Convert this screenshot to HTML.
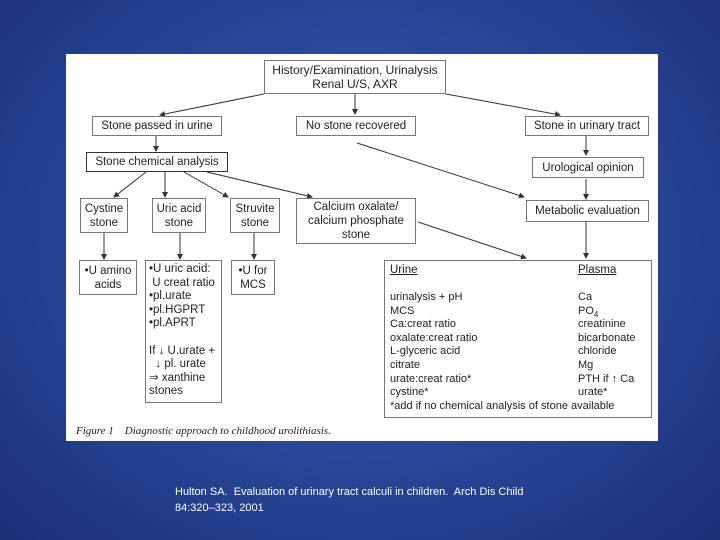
<!DOCTYPE html>
<html><head><style>
body{margin:0;width:720px;height:540px;overflow:hidden;background:radial-gradient(ellipse at 50% 45%,#3a5fb0 0%,#2a4a9c 45%,#1a2f78 100%);font-family:"Liberation Sans",sans-serif;position:relative}
.panel{position:absolute;left:66px;top:54px;width:592px;height:387px;background:#fff}
.b{position:absolute;border:1.5px solid #777;box-sizing:border-box;font-size:11.5px;color:#222;text-align:center;line-height:14px;display:flex;align-items:center;justify-content:center;background:#fff}
.l{text-align:left;justify-content:flex-start;align-items:flex-start;padding:2px 3px}
svg{position:absolute;left:0;top:0}
.t{position:absolute;font-size:11px;color:#222;line-height:13.6px}
</style></head><body>
<div class="panel"></div>
<svg width="720" height="540">
<defs><marker id="a" markerWidth="6" markerHeight="6" refX="5" refY="3" orient="auto"><path d="M0,0L6,3L0,6z" fill="#333"/></marker></defs>
<g stroke="#333" stroke-width="1" fill="none" marker-end="url(#a)">
<line x1="264" y1="94" x2="160" y2="115"/>
<line x1="355" y1="94" x2="355" y2="114"/>
<line x1="446" y1="94" x2="560" y2="115"/>
<line x1="156" y1="136" x2="156" y2="151"/>
<line x1="357" y1="143" x2="524" y2="197"/>
<line x1="586" y1="136" x2="586" y2="155"/>
<line x1="586" y1="179" x2="586" y2="199"/>
<line x1="146" y1="172" x2="114" y2="197"/>
<line x1="165" y1="172" x2="165" y2="197"/>
<line x1="184" y1="172" x2="228" y2="197"/>
<line x1="207" y1="172" x2="312" y2="197"/>
<line x1="418" y1="222" x2="526" y2="258"/>
<line x1="586" y1="222" x2="586" y2="258"/>
<line x1="104" y1="233" x2="104" y2="259"/>
<line x1="180" y1="233" x2="180" y2="259"/>
<line x1="254" y1="233" x2="254" y2="259"/>
</g></svg>
<div class="b" style="left:264px;top:60px;width:182px;height:34px;font-size:12px">History/Examination, Urinalysis<br>Renal U/S, AXR</div>
<div class="b" style="left:92px;top:116px;width:130px;height:20px">Stone passed in urine</div>
<div class="b" style="left:296px;top:116px;width:120px;height:20px">No stone recovered</div>
<div class="b" style="left:525px;top:116px;width:124px;height:20px">Stone in urinary tract</div>
<div class="b" style="left:86px;top:152px;width:142px;height:20px;border-color:#333">Stone chemical analysis</div>
<div class="b" style="left:532px;top:157px;width:112px;height:21px">Urological opinion</div>
<div class="b" style="left:80px;top:198px;width:48px;height:35px">Cystine<br>stone</div>
<div class="b" style="left:152px;top:198px;width:54px;height:35px">Uric acid<br>stone</div>
<div class="b" style="left:230px;top:198px;width:50px;height:35px">Struvite<br>stone</div>
<div class="b" style="left:296px;top:198px;width:120px;height:46px">Calcium oxalate/<br>calcium phosphate<br>stone</div>
<div class="b" style="left:526px;top:200px;width:123px;height:22px">Metabolic evaluation</div>
<div class="b" style="left:79px;top:260px;width:58px;height:35px">•U amino<br>acids</div>
<div class="b l" style="left:145px;top:260px;width:77px;height:143px;line-height:13.6px">•U uric acid:<br>&nbsp;U creat ratio<br>•pl.urate<br>•pl.HGPRT<br>•pl.APRT<br><br>If ↓ U.urate +<br>&nbsp;&nbsp;↓ pl. urate<br>⇒ xanthine<br>stones</div>
<div class="b" style="left:231px;top:260px;width:44px;height:35px">•U for<br>MCS</div>
<div class="b" style="left:384px;top:260px;width:268px;height:158px"></div>
<div class="t" style="left:390px;top:264px;text-decoration:underline;font-size:11.5px">Urine</div>
<div class="t" style="left:578px;top:264px;text-decoration:underline;font-size:11.5px">Plasma</div>
<div class="t" style="left:390px;top:291px">urinalysis + pH<br>MCS<br>Ca:creat ratio<br>oxalate:creat ratio<br>L-glyceric acid<br>citrate<br>urate:creat ratio*<br>cystine*<br>*add if no chemical analysis of stone available</div>
<div class="t" style="left:578px;top:291px">Ca<br>PO<sub style="font-size:8px;line-height:0">4</sub><br>creatinine<br>bicarbonate<br>chloride<br>Mg<br>PTH if ↑ Ca<br>urate*</div>
<div class="t" style="left:76px;top:425px;font-family:'Liberation Serif',serif;font-style:italic;font-size:11px">Figure 1&nbsp;&nbsp;&nbsp; Diagnostic approach to childhood urolithiasis.</div>
<div class="t" style="left:175px;top:484px;color:#fff;font-size:11px;line-height:16px">Hulton SA.&nbsp; Evaluation of urinary tract calculi in children.&nbsp; Arch Dis Child<br>84:320–323, 2001</div>
</body></html>
